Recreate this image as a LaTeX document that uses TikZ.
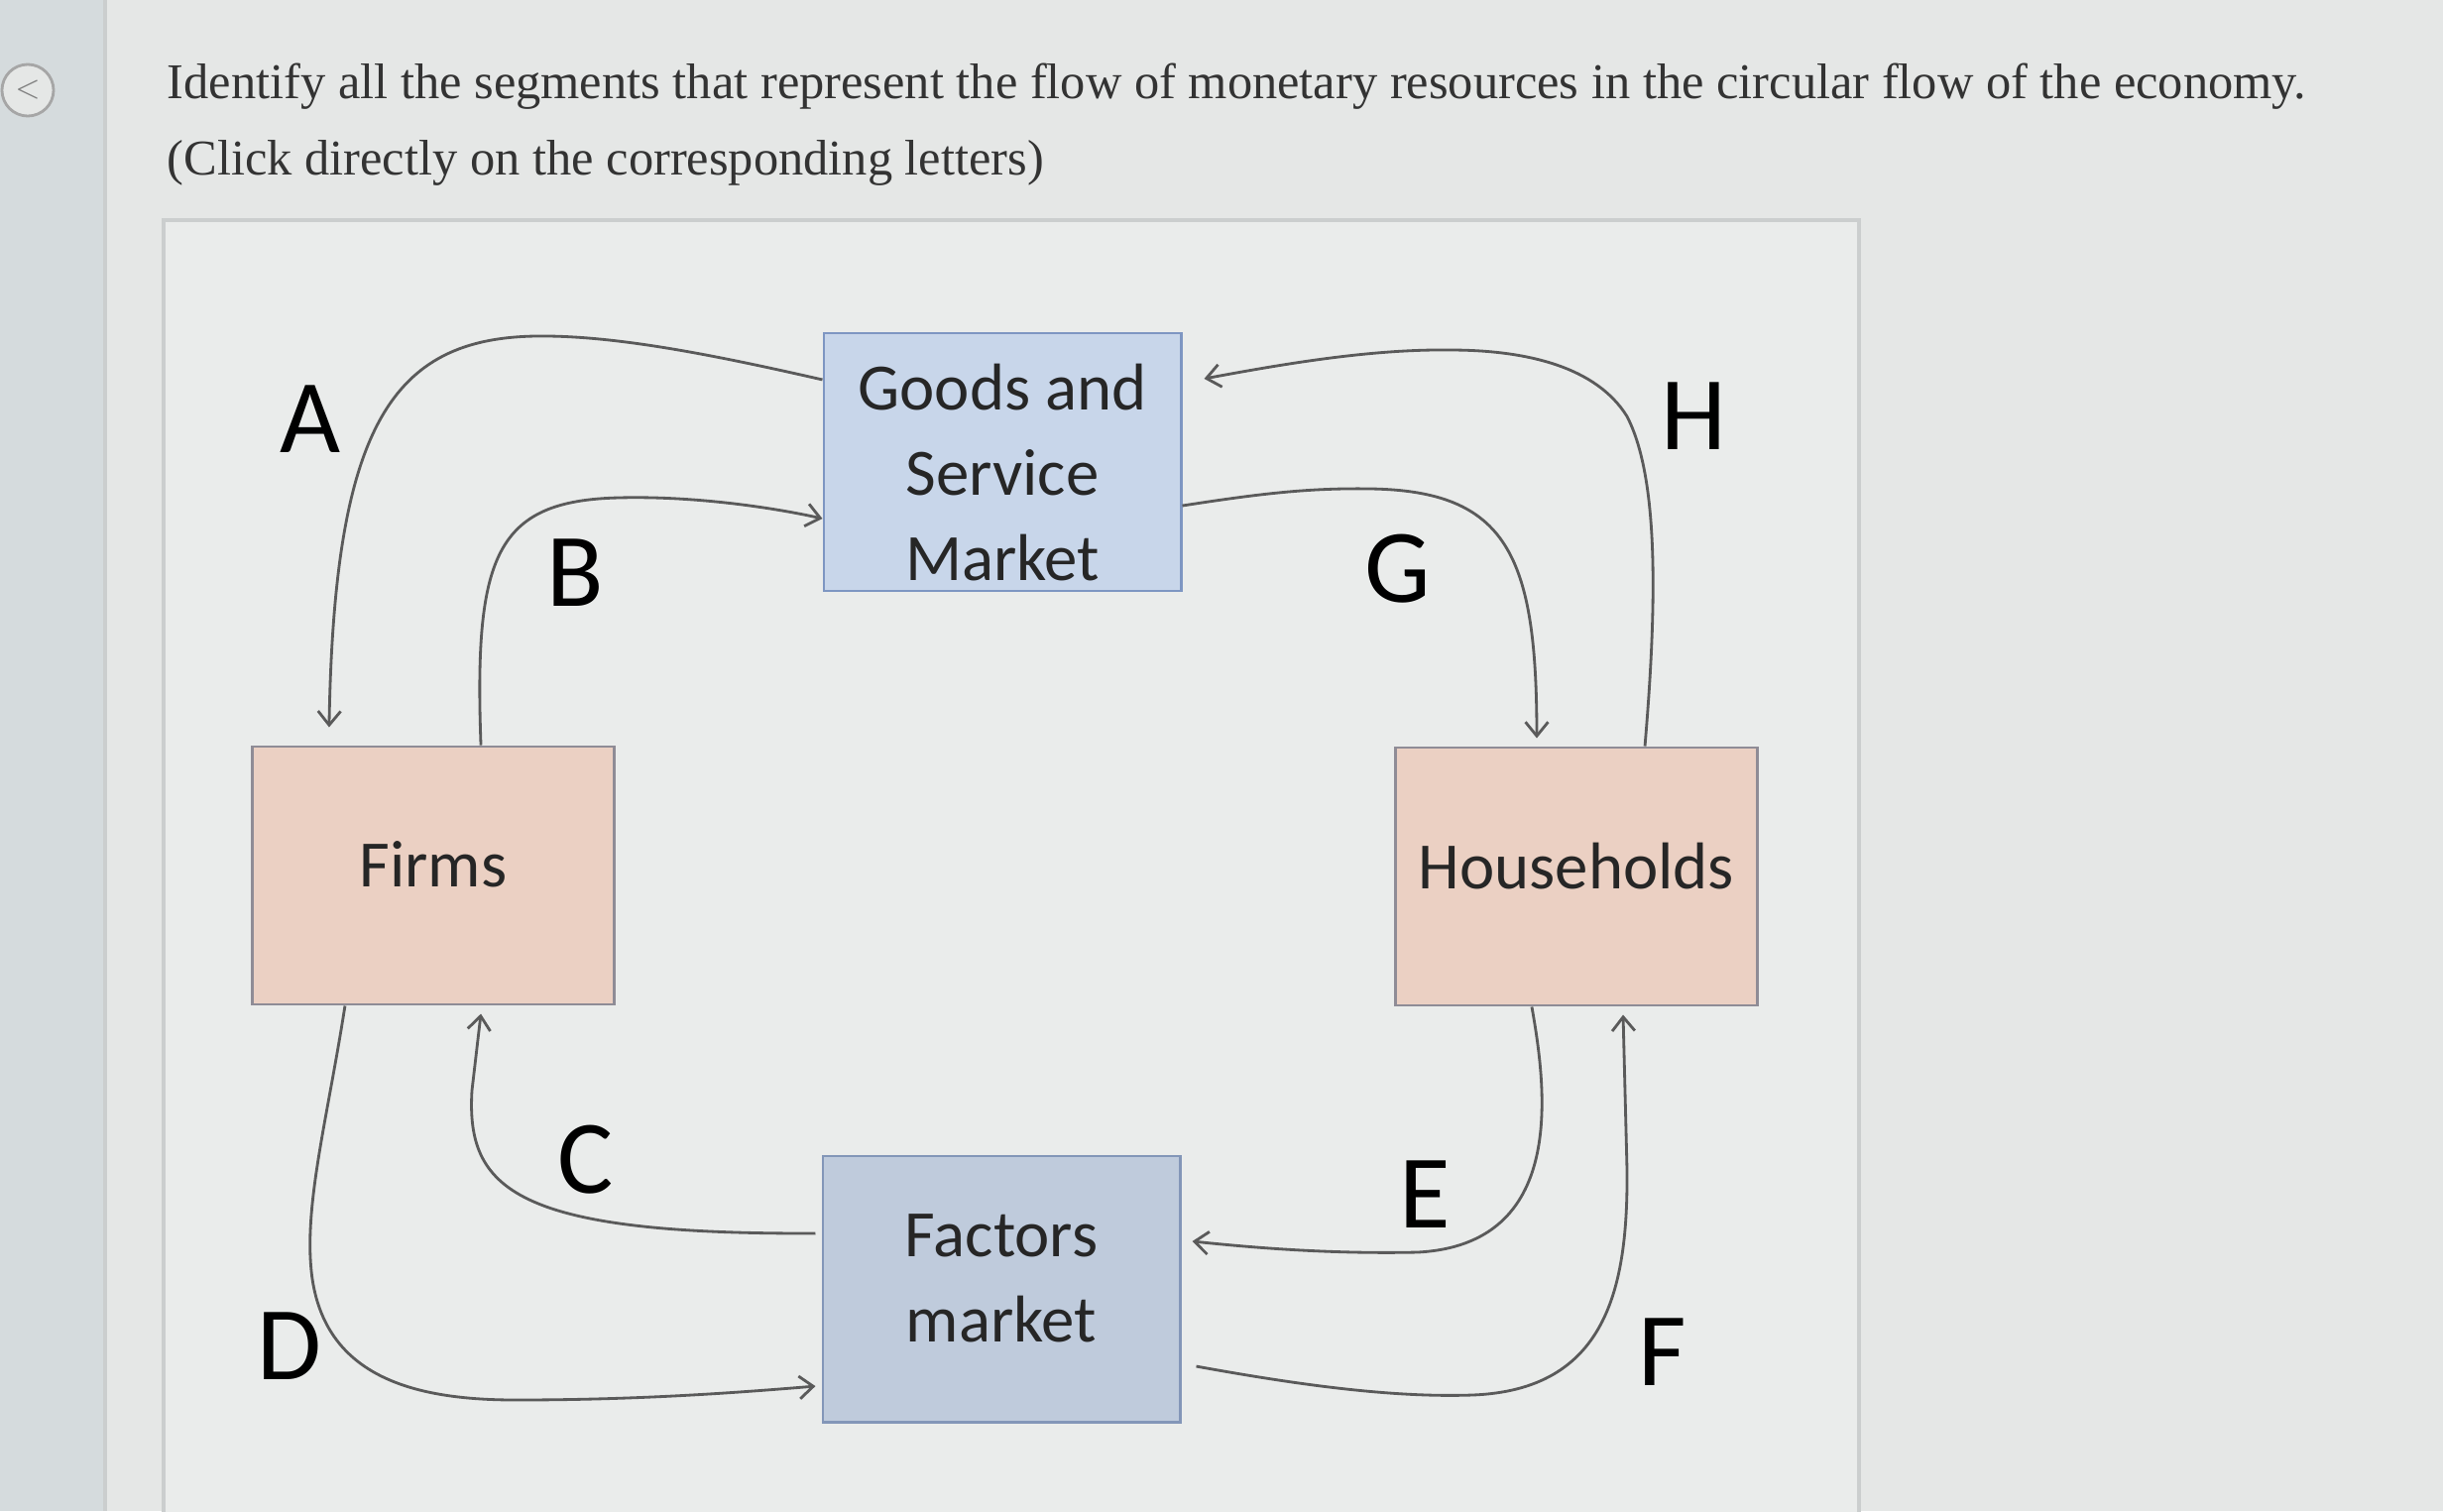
\documentclass[tikz,border=0pt]{standalone}
\usepackage{fontspec}
\setmainfont{Liberation Serif}
\newfontfamily\boxfont{Carlito}
\usetikzlibrary{arrows.meta}
\definecolor{pagebg}{HTML}{E5E7E6}
\definecolor{stripbg}{HTML}{D5DBDD}
\definecolor{panelbg}{HTML}{EAECEB}
\definecolor{panelline}{HTML}{CBCECE}
\definecolor{goodsfill}{HTML}{C8D6EA}
\definecolor{goodsline}{HTML}{7E96C2}
\definecolor{factorsfill}{HTML}{BFCBDC}
\definecolor{factorsline}{HTML}{8396B8}
\definecolor{agentfill}{HTML}{EBD0C3}
\definecolor{agentline}{HTML}{8F8C96}
\definecolor{flowline}{HTML}{5A5A5A}
\definecolor{headtext}{HTML}{333333}
\begin{document}
\begin{tikzpicture}[x=0.01cm,y=-0.01cm,
		market/.style={draw=#1line, fill=#1fill, line width=0.8pt, inner sep=0pt,
			minimum width=3.6cm, minimum height=2.6cm, align=center,
			font=\boxfont\fontsize{19}{24.5}\selectfont, text=black!85},
		agent/.style={market=agent, minimum width=3.65cm, text depth=2.2mm},
		flow/.style={draw=flowline, line width=0.8pt, -{Straight Barb[length=4pt,width=6.5pt]}},
		letter/.style={font=\boxfont\fontsize{30}{30}\selectfont, text=black},
		question/.style={anchor=base west, inner sep=0pt, font=\fontsize{14.35}{17}\selectfont, text=headtext}]
				\useasboundingbox (0,0) rectangle (2464,1524);
				\fill[pagebg] (0,0) rectangle (2464,1524);
				\fill[stripbg] (0,0) rectangle (104,1524);
				\draw[panelline, line width=1pt] (106,0) -- (106,1524);
				\draw[panelline, fill=panelbg, line width=1pt] (165,222) rectangle (1875,1540);
				
				\node[circle, draw=gray!70, fill=pagebg, line width=0.8pt, minimum size=0.52cm, inner sep=0pt,
					text=gray, font=\sffamily\small] (back) at (28,91) {<};
				\node[question] (line1) at (168,99)
					{Identify all the segments that represent the flow of monetary resources in the circular flow of the economy.};
				\node[question] (line2) at (168,176)
					{(Click directly on the corresponding letters)};
				
				\node[market=goods] (goods) at (1011,466)
					{\raisebox{-1.6mm}[\height][\depth]{\begin{tabular}{@{}c@{}}Goods and\\Service\\Market\end{tabular}}};
				\node[market=factors, minimum height=2.68cm, text depth=2.2mm] (factors) at (1010,1300) {Factors\\market};
				\node[agent] (firms) at (437,883) {Firms};
				\node[agent] (households) at (1590,884) {Households};
				
				\draw[flow] ([yshift=8.3mm]goods.west) .. controls (720,358) and (620,338) .. (541,339)
					.. controls (395,341) and (337,430) .. ([xshift=-10.5mm,yshift=1.8mm]firms.north);
				\draw[flow] ([xshift=4.8mm]firms.north) .. controls (478,560) and (500,505) .. (624,502)
					.. controls (700,500) and (780,512) .. ([yshift=-5.7mm]goods.west);
				\draw[flow] ([yshift=-4.4mm]goods.east) .. controls (1270,498) and (1320,492) .. (1382,493)
					.. controls (1520,495) and (1550,560) .. ([xshift=-4mm,yshift=0.8mm]households.north);
				\draw[flow] ([xshift=6.9mm]households.north) .. controls (1672,600) and (1672,480) .. (1641,420)
					.. controls (1610,370) and (1540,353) .. (1462,353)
					.. controls (1380,352) and (1290,368) .. ([xshift=2.2mm,yshift=8.4mm]goods.east);
				\draw[flow] ([xshift=-0.6mm,yshift=5.6mm]factors.west) .. controls (520,1245) and (470,1200) .. (476,1100)
					-- ([xshift=4.8mm,yshift=-0.8mm]firms.south);
				\draw[flow] ([xshift=-8.9mm]firms.south) .. controls (330,1130) and (305,1220) .. (315,1290)
					.. controls (330,1390) and (420,1412) .. (520,1412)
					.. controls (650,1412) and (750,1404) .. ([xshift=-0.6mm,yshift=-9.8mm]factors.west);
				\draw[flow] ([xshift=-4.5mm]households.south) .. controls (1560,1100) and (1580,1255) .. (1430,1263)
					.. controls (1340,1265) and (1260,1258) .. ([xshift=1.1mm,yshift=4.8mm]factors.east);
				\draw[flow] ([xshift=1.5mm,yshift=-7.8mm]factors.east) .. controls (1300,1395) and (1400,1410) .. (1485,1407)
					.. controls (1620,1402) and (1642,1300) .. (1641,1180)
					-- ([xshift=4.7mm,yshift=-0.8mm]households.south);
				
				\node[letter] (labA) at (313,423) {A};
				\node[letter] (labB) at (580,578) {B};
				\node[letter] (labC) at (591,1170) {C};
				\node[letter] (labD) at (292,1358) {D};
				\node[letter] (labE) at (1437,1205) {E};
				\node[letter] (labF) at (1677,1364) {F};
				\node[letter] (labG) at (1410,574) {G};
				\node[letter] (labH) at (1708,420) {H};
\end{tikzpicture}
\end{document}
